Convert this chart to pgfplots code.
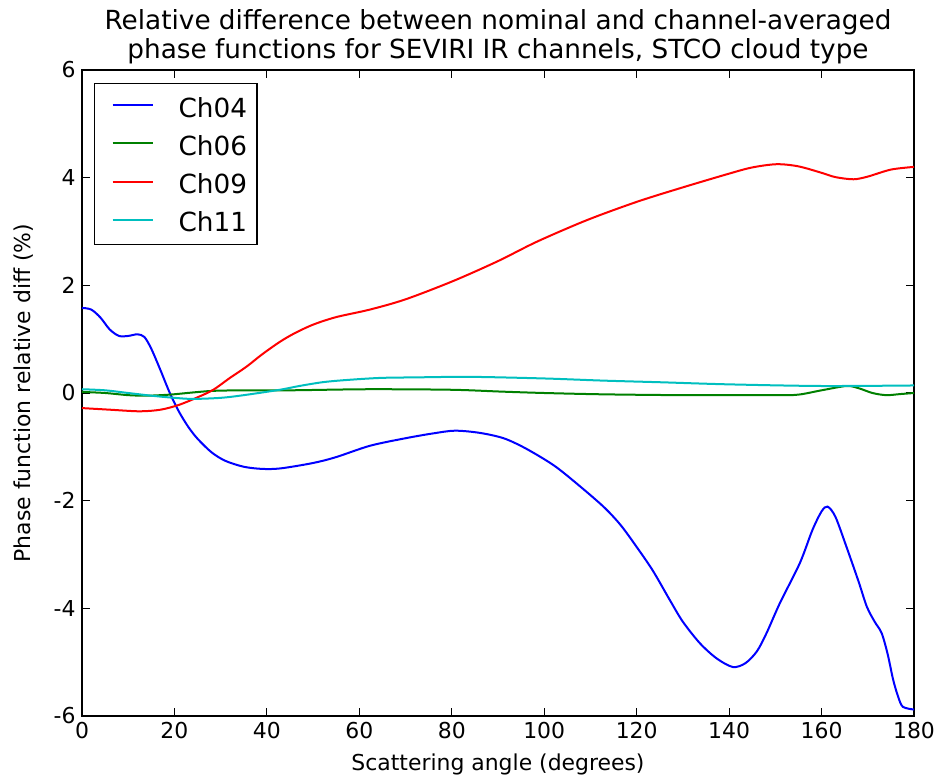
\documentclass[border=0pt]{standalone}
\usepackage{pgfplots}
\pgfplotsset{compat=1.18}
\usepackage{fontspec}
\setmainfont{DejaVu Sans}
\usetikzlibrary{calc}
\definecolor{mplgreen}{rgb}{0,0.5,0}
\definecolor{mplcyan}{rgb}{0,0.75,0.75}
\begin{document}
\begin{tikzpicture}
\begin{axis}[
  name=ax,
  scale only axis,
  width=832bp, height=646bp,
  xmin=0, xmax=180, ymin=-6, ymax=6,
  xtick={0,20,...,180}, ytick={-6,-4,...,6},
  minor tick num=0,
  tick align=inside,
  major tick length=8bp,
  every tick/.style={black, line width=1.2bp},
  axis line style={line width=1.2bp},
  tick label style={font=\fontsize{22}{26}\selectfont},
  /pgf/number format/assume math mode=true,
  xticklabel style={yshift=-3bp},
  yticklabel style={xshift=-3bp},
  label style={font=\fontsize{22}{26}\selectfont},
  xlabel={Scattering angle (degrees)},
  ylabel={Phase function relative diff (\%)},
  xlabel style={yshift=-8bp},
  ylabel style={yshift=13bp},
  title={Relative difference between nominal and channel-averaged\\phase functions for SEVIRI IR channels, STCO cloud type},
  title style={font=\fontsize{26.4}{28.5}\selectfont, align=center, at={(0.5,1)}, anchor=south, inner sep=0pt, yshift=0bp},
  legend style={at={(0.0144,0.98)}, anchor=north west, draw=black, line width=1.2bp,
    font=\fontsize{26.4}{30}\selectfont, inner xsep=10bp, inner ysep=12bp,
    nodes={inner sep=0pt, text height=19.2bp, text depth=0bp},
    row sep=16bp,
    /tikz/every odd column/.append style={column sep=25bp}},
  legend cell align=left,
  legend image code/.code={\path[draw=none,fill=none] (-8bp,-10bp) rectangle (40bp,12.2bp); \draw[#1, line width=2bp] (0bp,2.6bp) -- (40bp,2.6bp);},
  every axis plot/.append style={line width=2bp, smooth, tension=0.5},
]
\addplot[blue] coordinates {
(0,1.58) (2,1.55) (4,1.4) (6,1.18) (8,1.06) (10,1.06) (12,1.09) (13.5,1.04) (15,0.82) (17,0.42) (19,0.0)
(21,-0.35) (23,-0.63) (25,-0.85) (28,-1.1) (31,-1.26) (35,-1.37) (39,-1.41) (43,-1.40) (50,-1.30)
(55,-1.19) (62.3,-0.98) (70,-0.84) (76,-0.75) (80.7,-0.70) (86,-0.74) (91.2,-0.84) (96,-1.03) (102,-1.34)
(107,-1.68) (112.8,-2.11) (116.5,-2.45) (120,-2.86) (123.5,-3.3) (127.2,-3.85) (130,-4.25) (133.7,-4.65) (137.3,-4.93)
(140.8,-5.09) (143.5,-5.02) (146,-4.8) (148.1,-4.46) (151,-3.9) (155.3,-3.16) (158,-2.55) (160,-2.2) (161.3,-2.11)
(163,-2.3) (165.4,-2.86) (168,-3.5) (169.8,-3.97) (171.5,-4.25) (173,-4.46) (174.3,-4.85) (175.5,-5.33) (176.6,-5.65) (177.6,-5.83) (180,-5.88)
};
\addlegendentry{Ch04}
\addplot[mplgreen] coordinates {
(0,0.02) (5,0.0) (10,-0.04) (14,-0.05) (19,-0.03) (24,0.01) (28.4,0.04) (35,0.05) (45,0.05) (62,0.07) (80,0.06)
(91,0.025) (100,0.0) (113,-0.025) (130,-0.04) (150,-0.04) (155,-0.03) (160,0.05) (165.4,0.13) (168,0.09)
(171,0.0) (174,-0.04) (177,-0.02) (180,0.0)
};
\addlegendentry{Ch06}
\addplot[red] coordinates {
(0,-0.28) (6,-0.31) (12.5,-0.34) (17,-0.31) (21,-0.22) (25,-0.08) (28.4,0.06) (32,0.28) (35.6,0.49)
(39,0.72) (42.8,0.95) (46,1.11) (50,1.27) (55,1.41) (62.3,1.55) (70,1.74) (80.3,2.08) (90,2.45) (98.4,2.81)
(109.2,3.21) (120,3.55) (130,3.82) (140.2,4.08) (145,4.19) (150.3,4.25) (155,4.21) (160,4.09) (163,4.01)
(166.9,3.97) (170,4.02) (175,4.15) (180,4.2)
};
\addlegendentry{Ch09}
\addplot[mplcyan] coordinates {
(0,0.07) (5,0.05) (10,0.0) (15,-0.05) (20,-0.09) (24,-0.11) (30,-0.09) (35,-0.04) (42.8,0.06) (47,0.13) (52,0.2)
(57,0.24) (64.5,0.28) (72,0.29) (84,0.30) (100,0.27) (112.8,0.23) (125,0.2) (140.2,0.16) (160,0.13) (180,0.14)
};
\addlegendentry{Ch11}
\end{axis}
\useasboundingbox ($(ax.south west)+(-82bp,-63bp)$) rectangle ($(ax.north east)+(28bp,70bp)$);
\end{tikzpicture}
\end{document}
